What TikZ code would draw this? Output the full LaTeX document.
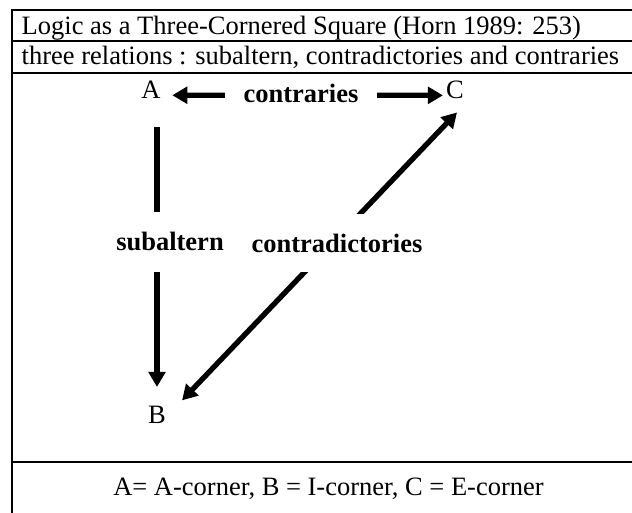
\documentclass[tikz,border=0pt]{standalone}
\usepackage{fontspec}
\setmainfont{Liberation Serif}
\usepackage{tikz}
\usetikzlibrary{arrows.meta}

\begin{document}
\begin{tikzpicture}[x=1pt,y=-1pt,
  rule/.style={line width=2.5pt},
  txt/.style={inner sep=0pt,font=\fontsize{26.5}{30}\selectfont},
  corner/.style={txt,anchor=base},
  rel/.style={txt,anchor=base,font=\fontsize{26.5}{30}\selectfont\bfseries,fill=white},
  flow/.style={line width=5.3pt,-{Triangle[length=15pt,width=16.5pt]}},
  link/.style={line width=5.3pt,{Triangle[length=15pt,width=16.5pt]}-{Triangle[length=15pt,width=16.5pt]}}]
\useasboundingbox (0,0) rectangle (632,513);
\foreach \y in {10,41,73,462}
  \draw[rule] (10.75,\y) -- (632,\y);
\draw[rule] (12,8.75) -- (12,513);
\node[txt,anchor=base west] (title) at (21.5,34.5) {Logic as a Three-Cornered Square (Horn 1989: 253)};
\node[txt,anchor=base west] (sub) at (21.5,64.5) {three relations : subaltern, contradictories and contraries};
\node[corner] (A) at (151,99) {A};
\node[corner] (C) at (455,99) {C};
\node[corner] (B) at (157,423) {B};
\draw[link,shorten <=11.5pt,shorten >=3pt] ([yshift=-5pt]A.east) -- ([yshift=-5pt]C.west);
\draw[flow,shorten <=28pt,shorten >=18.5pt] (A.south -| B) -- (B.north);
\draw[link] ([shift={(16,-14)}]B.east) -- ([shift={(2,13)}]C.south);
\node[rel,inner xsep=18.5pt] (contr) at (301,103) {contraries};
\node[rel,inner ysep=20.5pt] (subalt) at (170,251) {subaltern};
\node[rel,inner ysep=20pt] (contrad) at (337,252) {contradictories};
\node[txt,anchor=base] (key) at (328.5,495) {A= A-corner, B = I-corner, C = E-corner};
\end{tikzpicture}
\end{document}
